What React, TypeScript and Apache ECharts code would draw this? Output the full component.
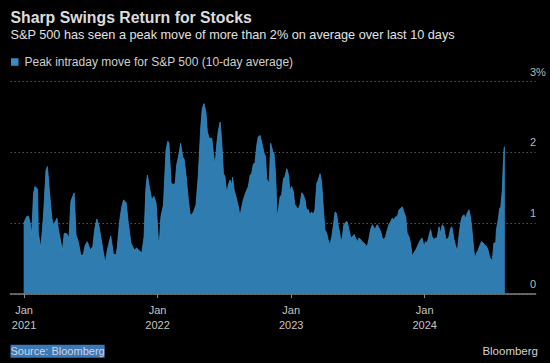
import React, { useEffect, useRef } from "react";
import * as echarts from "echarts";

// Chart texts
const titleText = "Sharp Swings Return for Stocks";
const subtitleText = "S&P 500 has seen a peak move of more than 2% on average over last 10 days";
const seriesName = "Peak intraday move for S&P 500 (10-day average)";
const sourceText = "Source: Bloomberg";
const brandText = "Bloomberg";

// Time data: days since startDate
const startDate = "2021-01-01";
const daysSinceStart = [
  -1, 8, 12, 17, 21, 26, 30, 37, 39, 46,
  53, 60, 64, 69, 76, 80, 85, 90, 94, 101,
  105, 110, 117, 123, 128, 137, 142, 149, 155, 162,
  167, 173, 181, 188, 193, 199, 205, 211, 217, 222,
  228, 237, 244, 252, 255, 261, 267, 272, 279, 285,
  292, 297, 301, 308, 312, 317, 322, 328, 333, 337,
  344, 349, 355, 361, 367, 370, 374, 381, 388, 393,
  396, 402, 408, 413, 417, 424, 428, 434, 437, 443,
  449, 454, 458, 463, 470, 476, 483, 487, 492, 497,
  501, 506, 513, 517, 522, 527, 531, 536, 540, 545,
  549, 554, 558, 563, 568, 570, 574, 579, 586, 590,
  595, 599, 607, 613, 618, 622, 627, 631, 636, 640,
  645, 650, 656, 660, 663, 670, 674, 680, 683, 687,
  689, 691, 695, 700, 704, 709, 713, 718, 722, 727,
  731, 736, 740, 745, 749, 754, 759, 763, 768, 772,
  777, 781, 786, 790, 795, 800, 804, 809, 813, 818,
  822, 827, 831, 836, 841, 845, 850, 854, 859, 863,
  866, 870, 874, 880, 883, 888, 893, 897, 902, 906,
  911, 915, 920, 924, 929, 934, 938, 943, 947, 952,
  956, 961, 965, 970, 975, 979, 984, 988, 993, 997,
  1002, 1006, 1011, 1015, 1020, 1025, 1029, 1034, 1038, 1043,
  1047, 1052, 1056, 1061, 1065, 1070, 1075, 1079, 1084, 1088,
  1093, 1097, 1102, 1106, 1111, 1115, 1120, 1125, 1129, 1134,
  1138, 1143, 1147, 1152, 1156, 1161, 1166, 1169, 1175, 1179,
  1184, 1188, 1193, 1197, 1202, 1207, 1211, 1216, 1220, 1225,
  1229, 1232, 1237, 1241, 1246, 1250, 1255, 1259, 1264, 1268,
  1273, 1278, 1280, 1284, 1289, 1291, 1296, 1300, 1303, 1307,
  1309, 1312, 1314,
];

// Peak intraday move (%), 10-day average
const peakMove = [
  1.0, 1.1, 1.1, 1.0, 0.84, 1.42, 1.52, 1.48, 0.86, 0.65,
  1.09, 1.75, 1.8, 1.47, 1.07, 0.98, 1.02, 1.07, 0.91, 0.72,
  0.62, 0.86, 0.85, 0.79, 1.31, 1.43, 0.84, 0.72, 0.55, 0.55,
  0.69, 0.74, 0.62, 0.67, 0.91, 1.06, 0.95, 0.77, 0.58, 0.44,
  0.63, 0.82, 0.57, 0.55, 0.67, 1.02, 1.23, 1.33, 1.29, 1.0,
  0.72, 0.67, 0.62, 0.65, 0.63, 0.6, 0.58, 0.81, 1.49, 1.68,
  1.47, 1.33, 1.38, 1.28, 0.77, 0.74, 1.09, 1.26, 2.03, 2.16,
  2.13, 1.56, 1.55, 1.56, 1.82, 1.99, 2.13, 1.92, 1.92, 1.66,
  1.33, 1.12, 1.12, 1.16, 1.26, 1.66, 2.36, 2.62, 2.69, 2.57,
  2.29, 2.2, 2.2, 2.01, 1.82, 2.13, 2.31, 2.43, 2.17, 1.7,
  1.66, 1.42, 1.54, 1.61, 1.54, 1.65, 1.47, 1.38, 1.23, 1.1,
  1.23, 1.33, 1.45, 1.52, 1.68, 1.7, 1.84, 1.84, 2.1, 2.22,
  2.24, 2.13, 1.99, 1.94, 1.63, 1.56, 2.13, 2.01, 1.99, 1.73,
  1.47, 1.09, 1.19, 1.38, 1.4, 1.63, 1.66, 1.77, 1.7, 1.45,
  1.52, 1.45, 1.26, 1.23, 1.19, 1.26, 1.43, 1.4, 1.33, 1.19,
  1.19, 1.12, 1.16, 1.12, 1.19, 1.56, 1.61, 1.7, 1.59, 1.21,
  0.91, 0.86, 0.77, 0.69, 0.81, 0.95, 1.16, 1.14, 0.95, 0.86,
  0.72, 0.81, 0.98, 1.02, 1.02, 0.91, 0.79, 0.81, 0.84, 0.79,
  0.74, 0.79, 0.77, 0.74, 0.72, 0.69, 0.67, 0.79, 0.91, 0.98,
  0.93, 0.93, 0.98, 0.93, 0.88, 0.79, 0.77, 0.81, 0.91, 0.98,
  1.02, 1.07, 1.05, 1.09, 1.09, 1.19, 1.21, 1.23, 1.16, 1.09,
  0.86, 0.81, 0.72, 0.53, 0.58, 0.62, 0.67, 0.72, 0.77, 0.79,
  0.67, 0.74, 0.72, 0.81, 0.91, 0.81, 0.77, 0.79, 0.79, 0.95,
  0.86, 0.98, 0.95, 0.79, 0.77, 0.81, 0.93, 0.95, 0.77, 0.69,
  0.6, 0.79, 1.0, 1.09, 1.12, 1.07, 1.14, 1.19, 1.09, 0.86,
  0.62, 0.51, 0.58, 0.62, 0.69, 0.74, 0.72, 0.69, 0.67, 0.62,
  0.51, 0.48, 0.48, 0.72, 0.72, 0.91, 1.05, 1.21, 1.23, 1.47,
  1.75, 2.07, 2.08,
];

// Axis
const xTickDates = ["2021-01-01", "2022-01-01", "2023-01-01", "2024-01-01"];
const xRangeDays = [-37, 1398];
const yTicks = [0, 1, 2, 3];

const DAY = 86400000;
const toTs = (s: string) => {
  const [y, m, d] = s.split("-").map(Number);
  return Date.UTC(y, m - 1, d);
};

export default function App() {
  const ref = useRef<HTMLDivElement>(null);

  useEffect(() => {
    document.body.style.margin = "0";
    document.body.style.background = "#000";
    if (!ref.current) return;
    const chart = echarts.init(ref.current, null, { renderer: "svg" });
    const start = toTs(startDate);
    const data = daysSinceStart.map((d, i) => [start + d * DAY, peakMove[i]]);
    const tickTs = xTickDates.map(toTs);
    const font = "'Liberation Sans', Arial, sans-serif";

    chart.setOption({
      animation: false,
      backgroundColor: "#000",
      textStyle: { fontFamily: font },
      grid: { left: 10.5, right: 14.4, top: 81.7, bottom: 69, containLabel: false },
      legend: {
        show: true,
        left: 6,
        top: 51,
        icon: "rect",
        itemWidth: 7.5,
        itemHeight: 7.5,
        itemGap: 10,
        textStyle: { color: "#cfcfcf", fontSize: 12, fontFamily: font, padding: [0, 0, 0, 1] },
        data: [{ name: seriesName, itemStyle: { color: "#3a8bc2" } }],
      },
      xAxis: {
        type: "value",
        min: start + xRangeDays[0] * DAY,
        max: start + xRangeDays[1] * DAY,
        axisLine: { show: true, onZero: false, lineStyle: { color: "#7f7f7f", width: 1.5 } },
        axisTick: {
          show: true,
          customValues: tickTs,
          length: 4,
          lineStyle: { color: "#8a8a8a", width: 1 },
        },
        axisLabel: {
          customValues: tickTs,
          color: "#c4c4c4",
          fontSize: 11,
          lineHeight: 14.4,
          margin: 9,
          fontFamily: font,
          showMinLabel: true,
          showMaxLabel: true,
          formatter: (v: number) => "Jan\n" + new Date(v).getUTCFullYear(),
        },
        splitLine: { show: false },
      },
      yAxis: {
        type: "value",
        position: "right",
        min: yTicks[0],
        max: yTicks[yTicks.length - 1],
        interval: 1,
        axisLine: { show: false },
        axisTick: { show: false },
        axisLabel: {
          color: "#b8b8b8",
          fontSize: 11,
          margin: -5.6,
          align: "left",
          verticalAlign: "bottom",
          lineHeight: 20,
          fontFamily: font,
          formatter: (v: number) => (v === yTicks[yTicks.length - 1] ? v + "%" : String(v)),
        },
        splitLine: { show: true, lineStyle: { color: "#565656", type: [1.5, 2.5], width: 1 } },
      },
      series: [
        {
          name: seriesName,
          type: "line",
          data,
          showSymbol: false,
          symbol: "none",
          lineStyle: { color: "#3a8bc2", width: 0.8 },
          areaStyle: { color: "#2f7db0", opacity: 1 },
          itemStyle: { color: "#3a8bc2" },
          z: 1,
        },
      ],
      graphic: [
        {
          type: "text",
          left: 10.5,
          top: 9.5,
          style: {
            text: titleText,
            fill: "#dcdcdc",
            font: `bold 15.8px ${font}`,
          },
        },
        {
          type: "text",
          x: 10.5,
          y: 35.1,
          style: {
            text: subtitleText,
            fill: "#e2e2e2",
            font: `12.7px ${font}`,
            verticalAlign: "middle",
          },
        },
        {
          type: "text",
          x: 10.5,
          y: 351.2,
          style: {
            text: sourceText,
            fill: "#ccd6e2",
            font: `11px ${font}`,
            verticalAlign: "middle",
            backgroundColor: "#3d78b8",
            padding: [1, 0, 1, 0],
          },
        },
        {
          type: "text",
          x: 538,
          y: 351.2,
          style: {
            text: brandText,
            fill: "#d2d2d2",
            font: `11.5px ${font}`,
            align: "right",
            verticalAlign: "middle",
          },
        },
      ],
    });
    return () => chart.dispose();
  }, []);

  return (
    <div
      ref={ref}
      style={{ position: "fixed", left: 0, top: 0, width: 550, height: 363, background: "#000" }}
    />
  );
}
